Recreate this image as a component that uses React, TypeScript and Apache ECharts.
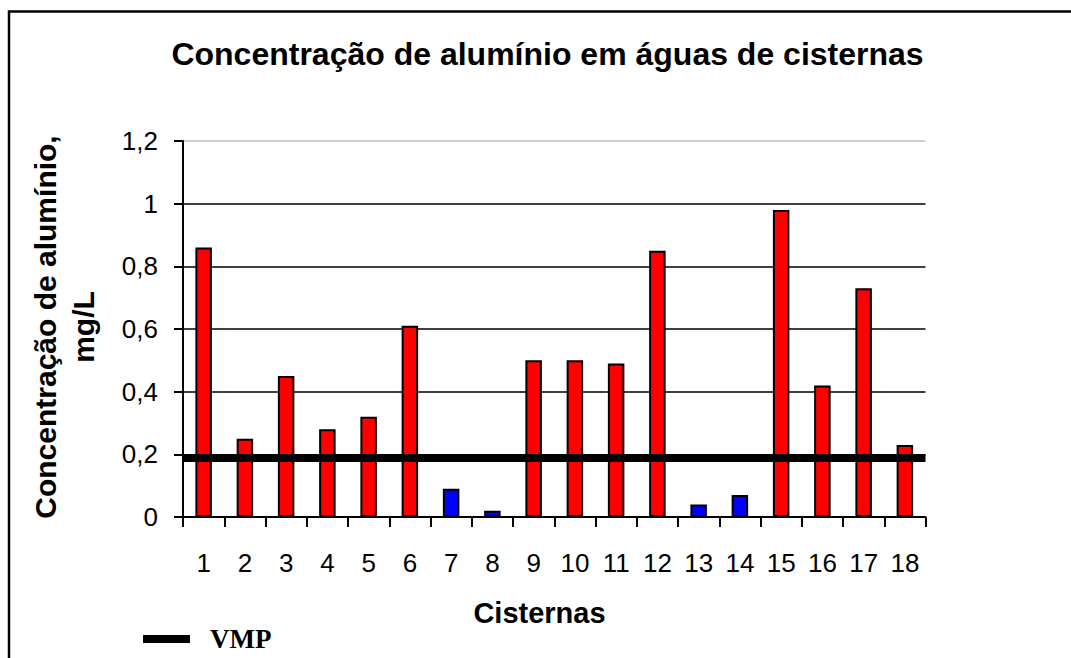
import React, { useEffect, useRef } from "react";
import * as echarts from "echarts";

const categories = ["1", "2", "3", "4", "5", "6", "7", "8", "9", "10", "11", "12", "13", "14", "15", "16", "17", "18"];
const aluminio = [0.86, 0.25, 0.45, 0.28, 0.32, 0.61, 0.09, 0.02, 0.5, 0.5, 0.49, 0.85, 0.04, 0.07, 0.98, 0.42, 0.73, 0.23];
const VMP = 0.19;
const titleText = "Concentração de alumínio em águas de cisternas";
const yName = "Concentração de alumínio,\nmg/L";
const xName = "Cisternas";
const legendName = "VMP";

const SANS = 'Arial, "Liberation Sans", sans-serif';
const SERIF = '"Times New Roman", "Liberation Serif", serif';

export default function App() {
  const ref = useRef<HTMLDivElement>(null);
  useEffect(() => {
    if (!ref.current) return;
    const chart = echarts.init(ref.current, undefined, { renderer: "svg" });
    chart.setOption({
      animation: false,
      backgroundColor: "#ffffff",
      grid: { left: 183, right: 145.5, top: 141, bottom: 141, containLabel: false },
      xAxis: {
        type: "category",
        data: categories,
        boundaryGap: true,
        axisLine: { show: true, lineStyle: { color: "#000", width: 2 } },
        axisTick: { show: true, alignWithLabel: false, length: 10, lineStyle: { color: "#000", width: 2 } },
        axisLabel: { color: "#000", fontSize: 26, fontFamily: SANS, margin: 33, interval: 0 },
        splitLine: { show: false },
      },
      yAxis: {
        type: "value",
        min: 0,
        max: 1.2,
        interval: 0.2,
        axisLine: { show: true, lineStyle: { color: "#000", width: 2 } },
        axisTick: { show: true, length: 9, lineStyle: { color: "#000", width: 2 } },
        axisLabel: {
          color: "#000",
          fontSize: 26,
          fontFamily: SANS,
          margin: 25,
          formatter: (v: number) => String(+v.toFixed(1)).replace(".", ","),
        },
        splitLine: {
          show: true,
          lineStyle: { color: ["#000", "#000", "#000", "#000", "#000", "#000", "#bdbdbd"], width: 1.5 },
        },
      },
      series: [
        {
          name: "Alumínio",
          type: "bar",
          barWidth: 16.5,
          data: aluminio.map((v) => ({
            value: v,
            itemStyle: { color: v > VMP ? "#ff0000" : "#0000ff", borderColor: "#000", borderWidth: 2 },
          })),
          markLine: {
            silent: true,
            symbol: "none",
            label: { show: false },
            lineStyle: { color: "#000", width: 8, type: "solid" },
            data: [{ yAxis: VMP }],
          },
          z: 2,
        },
      ],
      graphic: [
        {
          type: "rect",
          shape: { x: 9, y: 11.5, width: 1200, height: 800 },
          style: { fill: "none", stroke: "#000", lineWidth: 2.5 },
          silent: true,
          z: -1,
        },
        {
          type: "text",
          x: 547.5,
          y: 54,
          style: { text: titleText, fill: "#000", font: `bold 32px ${SANS}`, align: "center", verticalAlign: "middle" },
        },
        {
          type: "text",
          x: 539.5,
          y: 613,
          style: { text: xName, fill: "#000", font: `bold 29px ${SANS}`, align: "center", verticalAlign: "middle" },
        },
        {
          type: "text",
          x: 64,
          y: 327,
          rotation: Math.PI / 2,
          style: {
            text: yName,
            fill: "#000",
            font: `bold 30px ${SANS}`,
            lineHeight: 38,
            align: "center",
            verticalAlign: "middle",
          },
        },
        {
          type: "rect",
          shape: { x: 143, y: 635, width: 47, height: 8 },
          style: { fill: "#000" },
        },
        {
          type: "text",
          x: 210,
          y: 639,
          style: { text: legendName, fill: "#000", font: `bold 27px ${SERIF}`, align: "left", verticalAlign: "middle" },
        },
      ],
    });
    return () => chart.dispose();
  }, []);
  return (
    <div
      ref={ref}
      style={{ position: "absolute", left: 0, top: 0, width: 1071, height: 658 }}
    />
  );
}
